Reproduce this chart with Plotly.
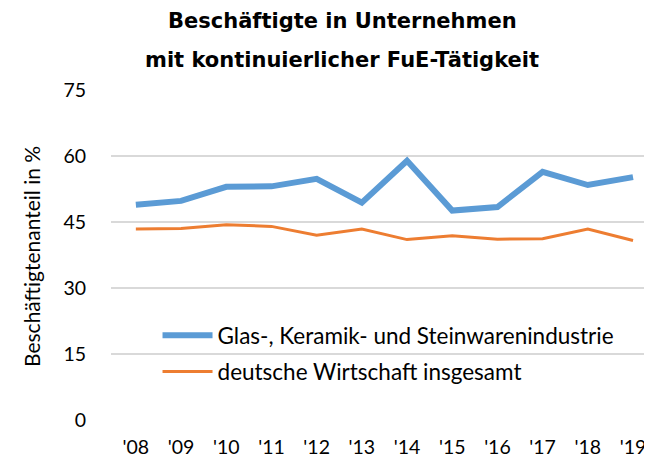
import plotly.graph_objects as go

years = ["'08", "'09", "'10", "'11", "'12", "'13", "'14", "'15", "'16", "'17", "'18", "'19"]
glas = [48.9, 49.8, 53.0, 53.1, 54.8, 49.4, 58.9, 47.6, 48.4, 56.4, 53.4, 55.2]
deutsch = [43.4, 43.5, 44.4, 44.0, 42.0, 43.4, 41.0, 41.9, 41.1, 41.2, 43.4, 40.8]

SANS = "Lato, Liberation Sans, sans-serif"
TICK_FONT = dict(family=SANS, size=19.5, color="#000000")

fig = go.Figure()
fig.add_trace(go.Scatter(x=list(range(len(years))), y=glas, mode="lines",
                         name="Glas-, Keramik- und Steinwarenindustrie", legendgroup="a",
                         line=dict(color="#5B9BD5", width=6)))
fig.add_trace(go.Scatter(x=list(range(len(years))), y=deutsch, mode="lines",
                         name="deutsche Wirtschaft insgesamt", legendgroup="b",
                         line=dict(color="#ED7D31", width=3)))

# page body has an 8px margin; figure is sized so that it ends at the window edge
fig.update_layout(
    width=644, height=449,
    margin=dict(l=103, r=0, t=82, b=37),
    paper_bgcolor="white", plot_bgcolor="white",
    showlegend=True,
    legend=dict(x=0.086, y=0.321, xanchor="left", yanchor="top",
                font=dict(family=SANS, size=22.5, color="#000000"),
                bgcolor="rgba(0,0,0,0)", itemwidth=50, tracegroupgap=4),
    xaxis=dict(range=[-0.55, 11.42], tickmode="array", automargin=False,
               tickvals=list(range(len(years))), ticktext=years,
               showgrid=False, zeroline=False, showline=False,
               ticks="outside", ticklen=10, tickcolor="rgba(0,0,0,0)",
               tickfont=TICK_FONT),
    yaxis=dict(range=[0, 75], dtick=15, tick0=0, automargin=False,
               showgrid=True, gridcolor="#D9D9D9", gridwidth=1.5,
               zeroline=False, showline=False,
               ticks="outside", ticklen=20, tickcolor="rgba(0,0,0,0)",
               tickfont=TICK_FONT),
)


def py(ypix):
    return (420 - ypix) / 330.0


def px(xpix):
    return (xpix - 111) / 541.0


TITLE_FONT = dict(family="DejaVu Sans, sans-serif", size=21, color="#000000")
fig.add_annotation(text="<b>Beschäftigte in Unternehmen</b>", xref="paper", yref="paper",
                   x=px(342), y=py(21), showarrow=False, xanchor="center", yanchor="middle",
                   font=TITLE_FONT)
fig.add_annotation(text="<b>mit kontinuierlicher FuE-Tätigkeit</b>", xref="paper", yref="paper",
                   x=px(342), y=py(60), showarrow=False, xanchor="center", yanchor="middle",
                   font=TITLE_FONT)
fig.add_annotation(text="Beschäftigtenanteil in %", xref="paper", yref="paper",
                   x=px(31), y=py(257), showarrow=False, textangle=-90,
                   xanchor="center", yanchor="middle",
                   font=dict(family=SANS, size=21, color="#000000"))

fig.write_html("out.html")
